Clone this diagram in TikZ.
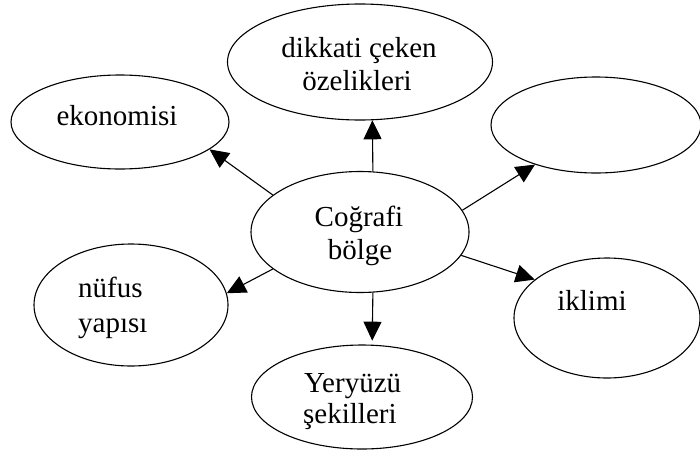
\documentclass[tikz,border=0pt]{standalone}
\usepackage{fontspec}
\setmainfont{Liberation Serif}
\usetikzlibrary{shapes.geometric,arrows.meta}
\begin{document}
\begin{tikzpicture}[x=1pt,y=-1pt,
  bubble/.style={draw, ellipse, line width=1.1pt, inner sep=0pt},
  word/.style={anchor=base, inner sep=0pt, font=\fontsize{29}{33}\selectfont},
  lword/.style={word, anchor=base west},
  link/.style={line width=1.1pt, -{Triangle[length=19pt,width=18pt]}}]
\useasboundingbox (0,0) rectangle (700,455);

% ellipses
\node[bubble, minimum width=218pt, minimum height=121pt] (geo) at (360,232) {};
\node[bubble, minimum width=218pt, minimum height=94pt]  (eko) at (120,122) {};
\node[bubble, minimum width=265pt, minimum height=116pt] (dik) at (360,62) {};
\node[bubble, minimum width=210pt, minimum height=96pt]  (bos) at (596,125) {};
\node[bubble, minimum width=194pt, minimum height=122pt] (nuf) at (131,305) {};
\node[bubble, minimum width=186pt, minimum height=120pt] (ikl) at (607,318) {};
\node[bubble, minimum width=221pt, minimum height=104pt] (yer) at (362,397) {};

% texts
\node[word] (geo-a) at (359,226) {Coğrafi};
\node[word] (geo-b) at (360,259) {bölge};
\node[word] (eko-a) at (117,125) {ekonomisi};
\node[word] (dik-a) at (359,57) {dikkati çeken};
\node[word] (dik-b) at (357,90) {özelikleri};
\node[lword] (nuf-a) at (78,297) {nüfus};
\node[lword] (nuf-b) at (78,332) {yapısı};
\node[word] (ikl-a) at (592,310) {iklimi};
\node[lword] (yer-a) at (304,392) {Yeryüzü};
\node[lword] (yer-b) at (303,423) {şekilleri};

% arrows
\draw[link] (geo.157) -- (eko.-17.6);
\draw[link] (geo.78.6) -- (dik.-78.3);
\draw[link] (geo.12) -- (bos.213.7);
\draw[link] (geo.-13) -- (ikl.152.4);
\draw[link, shorten >=4pt] (geo.-78.6) -- (yer.79.1);
\draw[link] (geo.203) -- (nuf.7.6);
\end{tikzpicture}
\end{document}
